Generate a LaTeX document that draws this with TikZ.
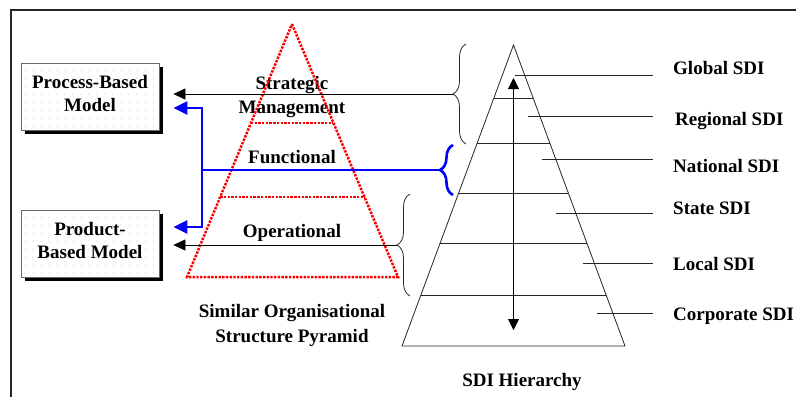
\documentclass[tikz,border=0pt]{standalone}
\usepackage{fontspec}
\setmainfont{Liberation Serif}
\usetikzlibrary{arrows.meta,decorations.pathreplacing,shadows,calc}
\begin{document}
\begin{tikzpicture}[x=1pt,y=-1pt,
  txt/.style={font=\fontsize{19}{23}\selectfont\bfseries, inner sep=0pt, anchor=base},
  txtw/.style={txt, anchor=base west},
  redpyr/.style={draw=red, line width=2.5pt, dash pattern=on 2.4pt off 1.3pt},
  fine/.style={draw=black!85, line width=0.8pt},
  blueln/.style={draw=blue, line width=2.6pt},
  tip/.style={-{Triangle[length=12pt,width=11pt]}},
  btip/.style={-{Triangle[length=14pt,width=13pt]}},
  dtip/.style={{Triangle[length=11pt,width=11pt]}-{Triangle[length=11pt,width=11pt]}},
  modelbox/.style={draw=black!60, line width=0.8pt, fill=white, minimum width=138pt, minimum height=67pt, inner sep=0pt,
     general shadow={fill=black, shadow xshift=4pt, shadow yshift=-4pt},
     path picture={\foreach \i in {1,...,17}{\foreach \j in {1,...,8}{\fill[black!35] ([xshift={\i*8pt-4pt}, yshift={\j*8pt-4pt}]path picture bounding box.south west) circle (0.5pt);}}}},
  brc/.style={decorate, decoration={brace, amplitude=13pt}},
]
\useasboundingbox (0,0) rectangle (796,397);
\fill[white] (0,0) rectangle (796,397);
\draw[line width=2pt, black!85] (796,10) -- (11,10) -- (11,397);

% boxes
\node[modelbox] (proc) at (90,96.5) {};
\node[txt] (procA) at (90,88) {Process-Based};
\node[txt] (procB) at (90,111) {Model};
\node[modelbox] (prod) at (90,243.5) {};
\node[txt] (prodA) at (90,235) {Product-};
\node[txt] (prodB) at (90,258) {Based Model};

% organisational pyramid labels
\node[txt] (strA) at (292,89) {Strategic};
\node[txt] (strB) at (292,113) {Management};
\node[txt] (func) at (292,163) {Functional};
\node[txt] (oper) at (292,237) {Operational};
\node[txt] (capA) at (292,317) {Similar Organisational};
\node[txt] (capB) at (292,342) {Structure Pyramid};

% red pyramid
\coordinate (ra) at (292,24);
\coordinate (rl) at (187,277);
\coordinate (rr) at (398,277);
\draw[redpyr] (ra) -- (rr) -- (rl) -- cycle;
\draw[redpyr] ($(ra)!0.391!(rl)$) -- ($(ra)!0.391!(rr)$);
\draw[redpyr] ($(ra)!0.684!(rl)$) -- ($(ra)!0.684!(rr)$);

% SDI pyramid
\coordinate (sa) at (513.5,45);
\coordinate (sl) at (402,346);
\coordinate (sr) at (625,346);
\draw[fine] (sa) -- (sr) -- (sl) -- cycle;
\foreach \t in {0.176,0.326,0.492,0.658,0.831}
  \draw[fine] ($(sa)!\t!(sl)$) -- ($(sa)!\t!(sr)$);
\coordinate (dT) at (513.5,78);
\coordinate (dB) at (513.5,330);
\draw[line width=0.8pt, black, dtip] (dB) -- (dT);

% SDI labels
\node[txtw] (gl) at (673,74) {Global SDI};
\node[txtw] (rg) at (675,125) {Regional SDI};
\node[txtw] (na) at (673,172) {National SDI};
\node[txtw] (st) at (673,214) {State SDI};
\node[txtw] (lo) at (673,270) {Local SDI};
\node[txtw] (co) at (673,320) {Corporate SDI};
\node[txt] (hier) at (522,386) {SDI Hierarchy};

\foreach \n/\xs/\yy in {gl/515/75, rg/528/116, na/542/159, st/556/213, lo/583/263, co/597/313}{
  \coordinate (\n S) at (\xs,\yy);
  \coordinate (\n E) at (653,\yy);
  \draw[fine] (\n S) -- (\n E);
}

% braces
\coordinate (b1b) at (466,144);
\coordinate (b1t) at (466,44);
\draw[fine, brc] (b1b) -- (b1t);
\coordinate (b1m) at (453,94);
\coordinate (ka) at ($(proc.east)+(14,-2.5)$);
\draw[line width=0.8pt, black, tip] (b1m) -- (ka);

\coordinate (b2b) at (410,296);
\coordinate (b2t) at (410,194);
\draw[fine, brc] (b2b) -- (b2t);
\coordinate (b2m) at (397,245);
\coordinate (kb) at ($(prod.east)+(14,1.5)$);
\draw[line width=0.8pt, black, tip] (b2m) -- (kb);

\coordinate (b3b) at (453,195);
\coordinate (b3t) at (453,145);
\draw[blueln, brc] (b3b) -- (b3t);
\coordinate (b3m) at (440,170);
\coordinate (bj) at (202,170);
\coordinate (pa) at ($(proc.east)+(14,11.5)$);
\coordinate (pb) at ($(prod.east)+(14,-16.5)$);
\draw[blueln] (b3m) -- (bj);
\draw[blueln, btip] (bj) |- (pa);
\draw[blueln, btip] (bj) |- (pb);
\end{tikzpicture}
\end{document}
